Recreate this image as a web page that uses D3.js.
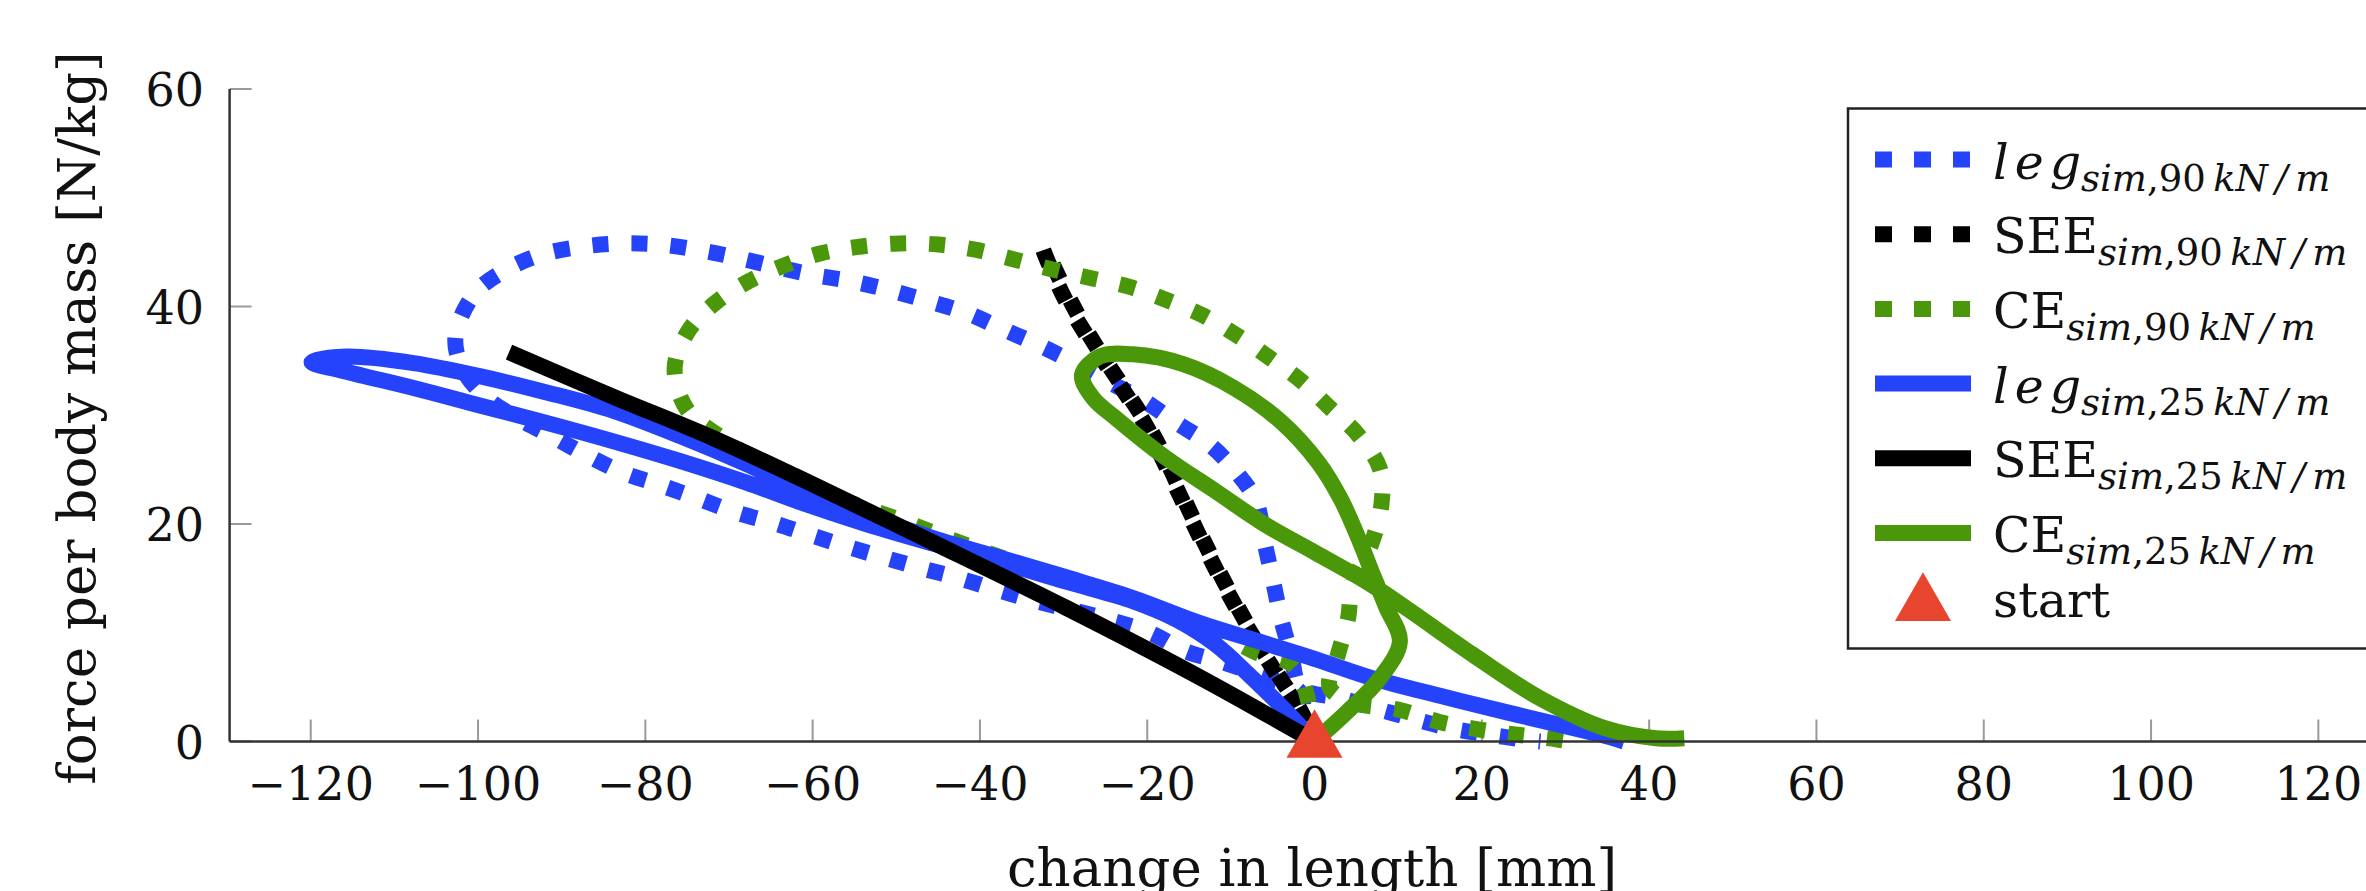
<!DOCTYPE html>
<html>
<head>
<meta charset="utf-8">
<script src="https://cdn.jsdelivr.net/npm/d3@7/dist/d3.min.js"></script>
<style>
	body { margin: 0; background: #fff; }
	svg text { font-family: "DejaVu Serif", serif; fill: #111; }
</style>
</head>
<body>
<div id="chart"></div>
<script>
// Tick values
var xTicks = [-120, -100, -80, -60, -40, -20, 0, 20, 40, 60, 80, 100, 120];
var yTicks = [0, 20, 40, 60];

// Curves, [change in length mm, force N/kg]
var leg90 = [[0, 0], [-1.2, 2.5], [-1.8, 4.6], [-6.6, 6.1], [-11, 7.3], [-15.4, 8.3], [-19.7, 10.0], [-26, 11.5],
	[-33.3, 12.9], [-37.8, 13.9], [-42.4, 15.0], [-46.8, 15.9], [-51.4, 16.9], [-55.8, 17.9], [-60.3, 19.0],
	[-64.7, 20.1], [-69.3, 21.1], [-73.9, 22.4], [-78.3, 23.6], [-82.6, 24.7], [-87.2, 26.4], [-91, 28],
	[-95.2, 29.7], [-99.0, 31.6], [-101.8, 34.2], [-102.7, 37.2], [-100.4, 41.2], [-96.6, 43.4], [-92.3, 44.8],
	[-87.6, 45.5], [-83.0, 45.8], [-78.3, 45.7], [-73.7, 45.2], [-69.1, 44.5], [-64.7, 43.7], [-59.9, 42.9],
	[-55.2, 42.3], [-50.8, 41.5], [-46.2, 40.5], [-41.6, 39.4], [-37.5, 38.0], [-33.1, 36.5], [-28.9, 34.9],
	[-24.7, 33.1], [-20.5, 31.4], [-16.7, 29.4], [-12.7, 27.4], [-9.6, 25.0], [-7.0, 22.1], [-6.0, 18.4],
	[-5.0, 14.9], [-4.0, 11.3], [-2.8, 8.0], [-1.6, 4.9], [3.0, 4.0], [7.0, 3.1], [11.7, 2.1], [16.3, 1.2],
	[21.1, 0.6], [25.7, 0.1], [27, 0]];
var see90 = [[0, 0], [-2.2, 3.4], [-4.2, 5.8], [-7.0, 9.2], [-9.8, 12.9], [-12.5, 16.9], [-15.4, 21.5],
	[-17.8, 25.4], [-20.2, 29.1], [-23.3, 32.8], [-27.3, 37.4], [-30.1, 41.1], [-32.5, 45.4],
	[-31.8, 44.6], [-29.5, 41.0], [-26.8, 37.2], [-22.9, 32.6], [-19.8, 28.9], [-17.3, 25.2], [-15.0, 21.3],
	[-12.2, 16.8], [-9.5, 12.8], [-6.8, 9.1], [-4.0, 5.7], [-2.0, 3.3], [0, 0.3]];
var ce90 = [[0, 0], [-1.0, 4.5], [-2.5, 7.0], [-7.0, 8.2], [-12, 10.2], [-20, 12.6], [-30, 15], [-40, 17.6],
	[-50, 20.5], [-60, 23.2], [-66, 25.5], [-71, 28], [-75, 30.5], [-76.5, 34.3], [-74.9, 37.7], [-71.7, 40.3],
	[-67.7, 42.3], [-63.3, 43.8], [-59.0, 44.9], [-54.4, 45.5], [-49.6, 45.8], [-45.0, 45.7], [-40.4, 45.2],
	[-35.8, 44.3], [-31.3, 43.4], [-26.7, 42.6], [-22.1, 41.8], [-17.7, 40.6], [-13.4, 39.2], [-9.4, 37.4],
	[-5.4, 35.3], [-1.5, 33.1], [1.8, 30.7], [5.2, 28.2], [7.8, 25.1], [8.0, 21.8], [6.8, 18.2], [4.5, 14.4],
	[4.0, 11.3], [2.8, 8.0], [1.8, 5.0], [4.5, 3.6], [10.2, 2.9], [14.9, 1.8], [19.7, 1.1], [24.5, 0.6],
	[28.9, 0.2], [30.5, 0]];
var leg25 = [[0, 0], [-3.8, 3.1], [-7.8, 6.1], [-11.8, 8.9], [-16.5, 11.2], [-21.7, 12.9], [-29.7, 14.7],
	[-37.6, 16.5], [-45.6, 18.2], [-53.6, 20.0], [-61.5, 22.0], [-67.9, 23.8], [-75.9, 25.8], [-83.8, 27.6],
	[-91.8, 29.3], [-99.8, 30.9], [-107.7, 32.5], [-115.7, 34.0], [-119.9, 34.9], [-115.7, 35.4],
	[-107.7, 34.8], [-99.8, 33.6], [-91.8, 32.1], [-83.8, 30.4], [-75.9, 28.1], [-67.9, 25.5], [-61.5, 23.2],
	[-53.6, 20.8], [-45.6, 18.7], [-37.6, 16.9], [-29.7, 15.1], [-21.7, 13.2], [-13.7, 10.9], [-5.8, 9.0],
	[0, 7.6], [7.0, 5.8], [15, 4.2], [22.9, 2.7], [30, 1.4], [34.8, 0.5], [37, 0]];
var see25 = [[0, 0], [-13.7, 5.9], [-29.7, 12.3], [-45.6, 18.3], [-61.5, 24.2], [-71.9, 27.9],
	[-83.8, 31.7], [-96.3, 35.8]];
var ce25 = [[0, 0], [4, 2.8], [7.8, 5.8], [10.2, 9.2], [8.6, 12.3], [7.0, 15.3], [5.4, 18.4], [3.2, 22.2],
	[0.5, 25.6], [-4.0, 29.4], [-9.6, 32.5], [-15.7, 34.7], [-21.7, 35.6], [-25.7, 35.4], [-27.8, 33.7],
	[-26.5, 31.6], [-23.7, 29.7], [-17.8, 26.1], [-11.8, 23.0], [-5.8, 19.9], [0, 17.4], [6.2, 14.7],
	[10.9, 12.3], [18.9, 8.0], [26.9, 4.0], [34.8, 1.2], [40.8, 0.3], [44.2, 0.3]];
var startPoint = [[0, 0]];

// Legend texts
var legendMain = ["leg", "SEE", "CE", "leg", "SEE", "CE", "start"];
var legendStiffness = ["90", "90", "90", "25", "25", "25", null];

// Styles
var blue = "#2443fb", green = "#4a980a", red = "#e8452f";
var styles = [
	{ data: leg90, color: blue, dotted: true, italic: true },
	{ data: see90, color: "#000", dotted: true, italic: false },
	{ data: ce90, color: green, dotted: true, italic: false },
	{ data: leg25, color: blue, dotted: false, italic: true },
	{ data: see25, color: "#000", dotted: false, italic: false },
	{ data: ce25, color: green, dotted: false, italic: false }
];
var lineWidth = 16;
var dots = "16,23";

var width = 2366, height = 891;
var svg = d3.select("#chart").append("svg")
	.attr("width", width)
	.attr("height", height);

var x = d3.scaleLinear().domain([-129.7, 130]).range([229.6, 2402]);
var y = d3.scaleLinear().domain([0, 60]).range([741.5, 89]);

// Ticks (grey, pointing inwards)
svg.selectAll("xtick")
	.data(xTicks)
	.enter()
	.append("line")
	.attr("x1", function(d) { return x(d); })
	.attr("x2", function(d) { return x(d); })
	.attr("y1", y(0))
	.attr("y2", y(0) - 22)
	.attr("stroke", "#9a9a9a")
	.attr("stroke-width", 2);
svg.selectAll("ytick")
	.data(yTicks)
	.enter()
	.append("line")
	.attr("x1", x.range()[0])
	.attr("x2", x.range()[0] + 22)
	.attr("y1", function(d) { return y(d); })
	.attr("y2", function(d) { return y(d); })
	.attr("stroke", "#9a9a9a")
	.attr("stroke-width", 2);

// Tick labels
var fmt = d3.format("d");
svg.selectAll("xlabel")
	.data(xTicks)
	.enter()
	.append("text")
	.text(function(d) { return fmt(d); })
	.attr("x", function(d) { return x(d); })
	.attr("y", 800)
	.attr("text-anchor", "middle")
	.attr("font-size", 46);
svg.selectAll("ylabel")
	.data(yTicks)
	.enter()
	.append("text")
	.text(function(d) { return fmt(d); })
	.attr("x", 204)
	.attr("y", function(d) { return y(d) + 17; })
	.attr("text-anchor", "end")
	.attr("font-size", 46);

// Curves
var line = d3.line()
	.x(function(d) { return x(d[0]); })
	.y(function(d) { return y(d[1]); })
	.curve(d3.curveCatmullRom.alpha(0.5));
svg.selectAll("curve")
	.data(styles)
	.enter()
	.append("path")
	.attr("d", function(d) { return line(d.data); })
	.attr("fill", "none")
	.attr("stroke", function(d) { return d.color; })
	.attr("stroke-width", lineWidth)
	.attr("stroke-dasharray", function(d) { return d.dotted ? dots : null; })
	.attr("stroke-linejoin", "round");

// Axis lines
svg.append("line")
	.attr("x1", x.range()[0]).attr("x2", width)
	.attr("y1", y(0)).attr("y2", y(0))
	.attr("stroke", "#333").attr("stroke-width", 2.5);
svg.append("line")
	.attr("x1", x.range()[0]).attr("x2", x.range()[0])
	.attr("y1", y(0)).attr("y2", y(60))
	.attr("stroke", "#333").attr("stroke-width", 2.5);

// Start marker
var triangle = d3.symbol().type(d3.symbolTriangle).size(1360);
svg.selectAll("start")
	.data(startPoint)
	.enter()
	.append("path")
	.attr("d", triangle)
	.attr("transform", function(d) { return "translate(" + x(d[0]) + "," + y(d[1]) + ")"; })
	.attr("fill", red);

// Axis titles (the bottom one runs off the picture, as in the original)
svg.append("text")
	.text("change in length [mm]")
	.attr("x", 1312)
	.attr("y", 886)
	.attr("text-anchor", "middle")
	.attr("font-size", 53);
svg.append("text")
	.text("force per body mass [N/kg]")
	.attr("transform", "translate(95,418) rotate(-90)")
	.attr("text-anchor", "middle")
	.attr("font-size", 53);

// Legend
var legend = { x: 1848, y: 108.5, w: 600, h: 540, row0: 159.5, step: 74.7 };
svg.append("rect")
	.attr("x", legend.x).attr("y", legend.y)
	.attr("width", legend.w).attr("height", legend.h)
	.attr("fill", "#fff").attr("stroke", "#222").attr("stroke-width", 2.5);

var rows = svg.selectAll("legend_item")
	.data(legendMain)
	.enter()
	.append("g")
	.attr("transform", function(d, i) {
		// last row has no subscript, so it sits a little closer
		var off = i < styles.length ? 0 : -10;
		return "translate(0," + (legend.row0 + i * legend.step + off) + ")";
	});

rows.each(function(d, i) {
	var g = d3.select(this);
	var italic = styles[i] && styles[i].italic;
	if (i < styles.length) {
		g.append("line")
			.attr("x1", 1875).attr("x2", 1971)
			.attr("y1", 0).attr("y2", 0)
			.attr("stroke", styles[i].color)
			.attr("stroke-width", lineWidth)
			.attr("stroke-dasharray", styles[i].dotted ? "17,22" : null);
	} else {
		g.append("path")
			.attr("d", triangle)
			.attr("transform", "translate(1923,7)")
			.attr("fill", red);
	}
	var t = g.append("text")
		.attr("x", 1993)
		.attr("y", 19)
		.attr("font-size", 49);
	if (italic) {
		// math italic: spaced letters, last one tight to the subscript
		t.append("tspan").text(d.slice(0, -1)).attr("font-style", "italic").attr("letter-spacing", 6);
		t.append("tspan").text(d.slice(-1)).attr("font-style", "italic");
	} else {
		t.append("tspan").text(d);
	}
	if (legendStiffness[i]) {
		t.append("tspan").text("sim").attr("font-style", "italic")
			.attr("font-size", 37).attr("dy", 12);
		t.append("tspan").text("," + legendStiffness[i] + "\u2009").attr("font-size", 37);
		t.append("tspan").text("kN\u2009/\u2009m").attr("font-style", "italic").attr("font-size", 37);
	}
});
</script>
</body>
</html>
